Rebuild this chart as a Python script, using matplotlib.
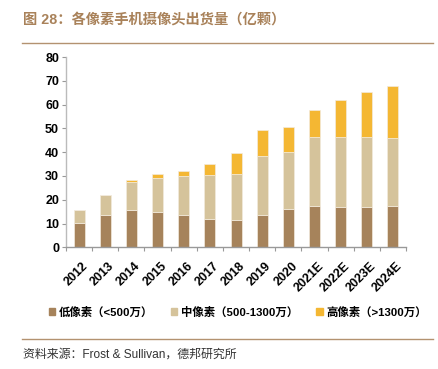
import matplotlib.pyplot as plt
import numpy as np
from matplotlib.patches import Patch
from matplotlib.lines import Line2D

plt.rcParams['font.family'] = ['Liberation Sans', 'Noto Sans CJK SC']

years = ['2012', '2013', '2014', '2015', '2016', '2017', '2018', '2019', '2020',
         '2021E', '2022E', '2023E', '2024E']
low = [10.4, 13.7, 15.7, 14.9, 13.7, 11.9, 11.6, 13.7, 16.3, 17.5, 17.1, 17.1, 17.5]
mid = [5.3, 8.2, 11.8, 14.2, 16.1, 18.4, 19.4, 24.7, 23.9, 28.9, 29.3, 29.3, 28.3]
high = [0.0, 0.0, 0.9, 1.7, 2.4, 4.6, 8.6, 10.8, 10.2, 11.3, 15.5, 19.0, 21.9]
series_names = ['低像素（<500万）', '中像素（500-1300万）', '高像素（>1300万）']

c_low = '#A6835B'
c_mid = '#D5C39B'
c_high = '#F4B733'
brown = '#A9825A'

fig = plt.figure(figsize=(4.38, 3.69), dpi=100)
ax = fig.add_axes([0.1507, 0.3298, 0.7763, 0.5157])

x = np.arange(len(years))
w = 0.42
ec = '#F3EBDD'
ax.bar(x, low, w, color=c_low, edgecolor=ec, linewidth=0.5)
ax.bar(x, mid, w, bottom=low, color=c_mid, edgecolor=ec, linewidth=0.5)
ax.bar(x, high, w, bottom=np.add(low, mid), color=c_high, edgecolor=ec, linewidth=0.5)

ax.set_xlim(-0.5, len(years) - 0.5)
ax.set_ylim(0, 80)
ax.set_yticks(range(0, 81, 10))
ax.set_yticklabels([str(v) for v in range(0, 81, 10)], fontsize=9, fontweight='bold')
ax.set_xticks(x + 0.12)
ax.set_xticklabels(years, rotation=45, ha='right', rotation_mode='anchor',
                   fontsize=9, fontweight='bold')
ax.tick_params(axis='x', length=0, pad=9)
ax.set_xticks(np.arange(-0.5, len(years)), minor=True)
ax.tick_params(axis='x', which='minor', length=3, color='#999999', width=0.8)
ax.tick_params(axis='y', length=3, color='#999999', width=0.8, pad=2)

for s in ['top', 'right']:
    ax.spines[s].set_visible(False)
ax.spines['left'].set_color('#BBBBBB')
ax.spines['bottom'].set_color('#999999')
ax.spines['left'].set_linewidth(1.0)
ax.spines['bottom'].set_linewidth(1.0)

# title and rules
fig.text(0.052, 0.946, '图 28：各像素手机摄像头出货量（亿颗）', fontsize=10.3,
         fontweight='bold', color=brown, va='center', ha='left')
fig.add_artist(Line2D([0.05, 0.989], [0.884, 0.884], color='#B39270', linewidth=1.0))
fig.add_artist(Line2D([0.05, 0.989], [0.081, 0.081], color='#B39270', linewidth=1.0))
fig.text(0.052, 0.04, '资料来源：Frost & Sullivan，德邦研究所', fontsize=8.6,
         color='#333333', va='center', ha='left')

handles = [Patch(color=c) for c in [c_low, c_mid, c_high]]
fig.legend(handles, series_names, loc='center left', bbox_to_anchor=(0.112, 0.155), ncol=3,
           frameon=False, prop={'size': 8.2, 'weight': 'bold'}, handlelength=0.55,
           handleheight=0.55, handletextpad=0.3, columnspacing=1.6, borderpad=0,
           borderaxespad=0)

fig.savefig('out.png', dpi=100)
